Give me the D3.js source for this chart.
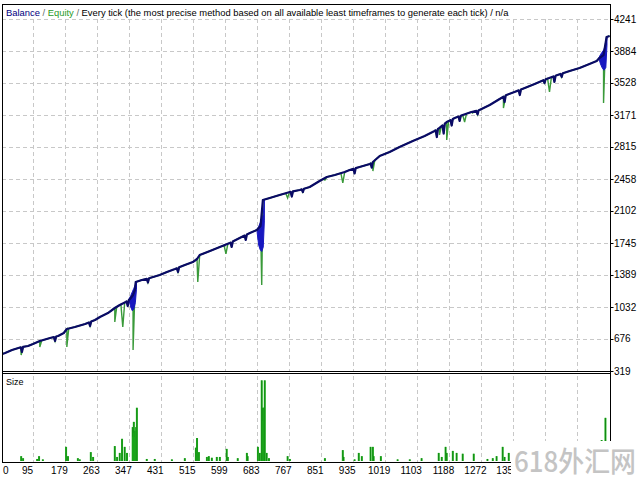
<!DOCTYPE html>
<html><head><meta charset="utf-8">
<script src="https://cdn.jsdelivr.net/npm/d3@7"></script>
<style>body{margin:0;background:#fff;} svg{display:block;font-family:"Liberation Sans",Arial,sans-serif;}</style>
</head><body><svg id="c" width="640" height="480"></svg>
<script>
// ---- data ----
const xTickLabels = [0,95,179,263,347,431,515,599,683,767,851,935,1019,1103,1188,1272,1356];
const xGridExtra = [1440,1524];
const yTickLabels = [319,676,1032,1389,1745,2102,2458,2815,3171,3528,3884,4241];

const balanceTrades = [0,22,40,61,82,95,113,140,161,176,184,205,232,258,271,292,310,323,339,350,358,363,365,381,402,428,447,468,494,515,526,533,560,586,612,638,665,683,693,699,717,743,770,796,822,848,867,888,914,927,953,980,988,1006,1032,1058,1093,1124,1150,1163,1182,1203,1224,1247,1268,1295,1321,1339,1360,1387,1413,1444,1473,1505,1531,1557,1576,1583,1594,1599,1602,1610];
const balanceValues = [486,520,553,581,598,620,653,687,709,742,787,809,843,887,921,965,1021,1054,1088,1121,1166,1222,1311,1333,1355,1389,1422,1455,1500,1533,1567,1611,1656,1701,1745,1801,1857,1890,1935,2224,2247,2280,2313,2336,2369,2436,2481,2503,2536,2559,2592,2625,2648,2715,2759,2815,2882,2937,2993,3027,3093,3138,3171,3205,3227,3283,3350,3394,3428,3472,3517,3573,3617,3662,3695,3740,3773,3806,3840,3962,4040,4052];

const balanceDipTrades = [66,153,245,344,397,476,617,654,775,804,940,985,1156,1174,1195,1216,1263,1334,1374,1439,1465,1484];
const balanceDipValues = [531,653,820,1043,1305,1422,1701,1779,2262,2313,2520,2584,2926,2965,3054,3105,3177,3316,3394,3528,3540,3595];

const equityDipTrades = [64,113,184,310,331,358,528,602,696,764,862,909,988,1163,1182,1229,1250,1331,1452,1594];
const equityDipValues = [497,586,586,865,809,553,1311,1623,1277,2247,2447,2414,2547,2949,2893,3093,3194,3249,3428,3305];

const blobTrades = [348,352,356,360,364,367,null,684,688,692,696,700,703,null,1582,1586,1590,1595,1600,1603];
const blobLow    = [1100,1030,990,1010,1080,1230,null,1860,1720,1670,1650,1700,2000,null,3795,3740,3700,3670,3700,3950];
const blobHigh   = [1125,1160,1200,1240,1280,1320,null,1895,1930,1970,2010,2060,2224,null,3812,3845,3870,3900,3960,4040];

const sizeTrades = [64,69,106,111,121,182,187,213,218,247,253,310,316,323,329,336,342,357,358,360,361,363,365,366,368,394,415,460,494,523,526,531,552,557,565,578,586,604,607,633,657,659,686,691,696,699,700,702,704,709,715,764,770,862,909,911,940,951,959,982,988,990,1009,1053,1085,1116,1161,1169,1179,1182,1198,1208,1224,1253,1289,1303,1313,1329,1334,1345,1589,1599];
const sizeLots   = [.12,.07,.05,.12,.04,.35,.12,.07,.04,.22,.1,.37,.1,.2,.55,.35,.2,.84,.6,.97,.7,.75,.6,.84,1.32,.05,.05,.04,.07,.33,.57,.22,.1,.12,.08,.1,.1,.3,.1,.07,.2,.12,.35,.2,2.0,1.32,1.0,1.32,2.0,.2,.07,.12,.05,.07,.27,.1,.04,.2,.12,.35,.35,.12,.12,.04,.04,.07,.2,.1,.35,.2,.25,.2,.18,.18,.05,.07,.12,.35,.1,.2,.52,1.07];

// ---- layout ----
const svg = d3.select("#c");
const L = 2, R = 610.5, T = 4, B = 371, S0 = 373.5, S1 = 462;
const x = d3.scaleLinear().domain([0, 1612]).range([-3.2, 610.4]);
const y = d3.scaleLinear().domain([319, 4241]).range([371, 19]);
const ys = d3.scaleLinear().domain([0, 2.17]).range([461, 373.5]);

const grid = "#c8c8c8";
const vGrid = xTickLabels.slice(1).concat(xGridExtra);
svg.append("g").selectAll("line").data(yTickLabels).join("line")
  .attr("x1", L).attr("x2", R).attr("y1", d => Math.round(y(d)) + 0.5).attr("y2", d => Math.round(y(d)) + 0.5)
  .attr("stroke", grid).attr("stroke-dasharray", "4,3");
svg.append("g").selectAll("line").data(vGrid).join("line")
  .attr("x1", d => Math.round(x(d)) + 0.5).attr("x2", d => Math.round(x(d)) + 0.5)
  .attr("y1", 19).attr("y2", B).attr("stroke", grid).attr("stroke-dasharray", "4,3");
svg.append("g").selectAll("line").data(vGrid).join("line")
  .attr("x1", d => Math.round(x(d)) + 0.5).attr("x2", d => Math.round(x(d)) + 0.5)
  .attr("y1", 376).attr("y2", S1).attr("stroke", grid).attr("stroke-dasharray", "4,3");

svg.append("clipPath").attr("id", "clipM").append("rect").attr("x", L).attr("y", T).attr("width", R - L).attr("height", B - T);

function balAt(t) {
  const i = d3.bisectRight(balanceTrades, t);
  if (i <= 0) return balanceValues[0];
  if (i >= balanceTrades.length) return balanceValues[balanceValues.length - 1];
  const t0 = balanceTrades[i - 1], t1 = balanceTrades[i];
  const v0 = balanceValues[i - 1], v1 = balanceValues[i];
  return v0 + (v1 - v0) * (t - t0) / (t1 - t0);
}
let balPts = balanceTrades.map((t, i) => [t, balanceValues[i]]);
balanceDipTrades.forEach((t, i) => {
  balPts.push([t - 3, balAt(t - 3)], [t, balanceDipValues[i]], [t + 3, balAt(t + 3)]);
});
balPts.sort((a, b) => a[0] - b[0]);
let eqPts = balPts.slice();
equityDipTrades.forEach((t, i) => {
  eqPts.push([t - 5, balAt(t - 5)], [t, equityDipValues[i]], [t + 5, balAt(t + 5)]);
});
eqPts.sort((a, b) => a[0] - b[0]);

const gM = svg.append("g").attr("clip-path", "url(#clipM)");
const line = d3.line().x(d => x(d[0])).y(d => y(d[1]));
gM.append("path").attr("d", line(eqPts)).attr("fill", "none").attr("stroke", "#3a9a3a").attr("stroke-width", 1.4);
const blobData = blobTrades.map((t, i) => ({t, lo: blobLow[i], hi: blobHigh[i]}));
gM.append("path").attr("d", d3.area().defined(d => d.t !== null).x(d => x(d.t)).y0(d => y(d.lo)).y1(d => y(d.hi))(blobData))
  .attr("fill", "#1818c0").attr("stroke", "#1818c0").attr("stroke-width", 1);
gM.append("path").attr("d", line(balPts)).attr("fill", "none").attr("stroke", "#0a0a66").attr("stroke-width", 2.2).attr("stroke-linejoin", "round");

const gS = svg.append("g");
sizeTrades.forEach((t, i) => {
  const xx = x(t);
  gS.append("rect").attr("x", xx - 1).attr("y", ys(sizeLots[i])).attr("width", 2).attr("height", ys(0) - ys(sizeLots[i])).attr("fill", "#22b822");
  gS.append("line").attr("x1", xx).attr("x2", xx).attr("y1", ys(sizeLots[i])).attr("y2", ys(0)).attr("stroke", "#0d700d").attr("stroke-width", 0.7);
});

const fr = svg.append("g").attr("stroke", "#000").attr("fill", "none");
fr.append("line").attr("x1", L).attr("x2", R).attr("y1", T + 0.5).attr("y2", T + 0.5);
fr.append("line").attr("x1", L + 0.5).attr("x2", L + 0.5).attr("y1", T).attr("y2", S1);
fr.append("line").attr("x1", R).attr("x2", R).attr("y1", T).attr("y2", S1);
fr.append("line").attr("x1", L).attr("x2", R).attr("y1", B + 0.5).attr("y2", B + 0.5);
fr.append("line").attr("x1", L).attr("x2", R).attr("y1", S0).attr("y2", S0);
fr.append("line").attr("x1", L).attr("x2", R).attr("y1", S1 + 0.5).attr("y2", S1 + 0.5);

svg.append("g").selectAll("line").data(yTickLabels).join("line")
  .attr("x1", R).attr("x2", R + 3).attr("y1", d => Math.round(y(d)) + 0.5).attr("y2", d => Math.round(y(d)) + 0.5).attr("stroke", "#000");
svg.append("g").selectAll("text").data(yTickLabels).join("text")
  .attr("x", 614).attr("y", d => y(d) + 3.5).attr("font-size", 10).attr("fill", "#000").text(d => d);

svg.append("g").selectAll("text").data(xTickLabels).join("text")
  .attr("x", d => d === 0 ? 3 : x(d) - 5.5).attr("y", 474)
  .attr("text-anchor", d => d === 0 ? "start" : "middle").attr("font-size", 10).attr("fill", "#000").text(d => d);

const lg = svg.append("text").attr("x", 6).attr("y", 16).attr("font-size", 10);
lg.append("tspan").attr("fill", "#000080").text("Balance");
lg.append("tspan").attr("fill", "#666").text(" / ");
lg.append("tspan").attr("fill", "#1f9a1f").text("Equity");
lg.append("tspan").attr("fill", "#666").text(" / ");
lg.append("tspan").attr("fill", "#000").text("Every tick (the most precise method based on all available least timeframes to generate each tick) / n/a");
const len = lg.node().getComputedTextLength();
lg.attr("font-size", 10 * 503 / len);

svg.append("text").attr("x", 6).attr("y", 385).attr("font-size", 9).attr("fill", "#000").text("Size");

// watermark (covers the right end of the x axis, as in the reference)
svg.append("rect").attr("x", 511).attr("y", 441).attr("width", 129).attr("height", 39).attr("fill", "#fff");
svg.append("text").attr("x", 514).attr("y", 472).attr("font-size", 28).attr("font-family", "Noto Sans CJK SC")
  .attr("font-weight", 500).attr("fill", "#c4c4c4").attr("textLength", 122).attr("lengthAdjust", "spacingAndGlyphs").text("618外汇网");
</script></body></html>
